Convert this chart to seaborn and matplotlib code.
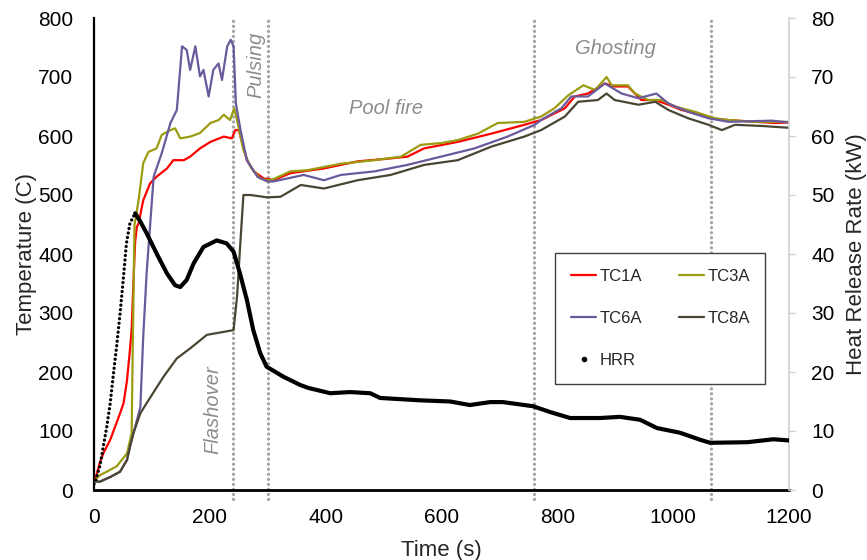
import numpy as np
import pandas as pd
import matplotlib
matplotlib.use("Agg")
import matplotlib.pyplot as plt
from matplotlib.lines import Line2D
import seaborn as sns

# ---------------- data ----------------
t_tc1a = [0, 2, 10, 16, 28, 45, 51, 57, 62, 65, 68, 71, 74, 77, 85, 97, 108, 126, 137, 155,
          166, 183, 201, 224, 238, 244, 250, 256, 264, 276, 293, 302, 310, 339, 397, 455, 512, 541, 570, 628,
          686, 743, 772, 813, 830, 853, 882, 899, 922, 945, 969, 992, 1015, 1038, 1067, 1096, 1142, 1176, 1200]
tc1a = [15, 17, 46, 62, 85, 130, 147, 186, 237, 271, 350, 420, 446, 452, 491, 520, 531, 545, 559, 559,
        565, 579, 590, 599, 596, 610, 610, 588, 559, 540, 528, 527, 525, 537, 545, 557, 562, 565, 579, 590,
        604, 619, 627, 647, 667, 672, 689, 684, 684, 661, 661, 653, 644, 638, 630, 627, 624, 622, 623]

t_tc3a = [0, 10, 22, 39, 57, 65, 67, 70, 77, 85, 94, 108, 117, 132, 140, 149, 166, 183, 201, 215,
          224, 235, 242, 247, 258, 270, 287, 299, 310, 339, 368, 426, 484, 530, 564, 599, 628, 663, 697, 743,
          772, 795, 819, 845, 865, 885, 894, 922, 934, 957, 980, 1003, 1038, 1072, 1096, 1142, 1200]
tc3a = [15, 25, 31, 40, 62, 96, 250, 450, 491, 554, 573, 579, 602, 610, 613, 596, 599, 605, 622, 627,
        636, 627, 647, 627, 576, 548, 528, 525, 527, 540, 542, 553, 559, 565, 585, 588, 593, 604, 622, 624,
        633, 647, 669, 686, 678, 700, 686, 686, 672, 661, 661, 650, 641, 630, 627, 624, 624]

t_tc6a = [0, 10, 28, 45, 57, 62, 68, 80, 85, 91, 97, 103, 117, 132, 143, 152, 160, 166, 175, 183,
          189, 198, 206, 215, 221, 230, 236, 241, 245, 253, 264, 282, 299, 310, 362, 397, 426, 484, 541, 599,
          657, 714, 761, 772, 807, 824, 853, 882, 911, 940, 971, 992, 1026, 1061, 1096, 1170, 1200]
tc6a = [15, 14, 22, 31, 51, 73, 96, 140, 260, 370, 450, 531, 571, 622, 644, 752, 746, 712, 752, 701,
        712, 667, 712, 723, 695, 752, 763, 752, 655, 610, 559, 531, 523, 523, 534, 525, 534, 540, 551, 565,
        579, 599, 619, 627, 647, 667, 667, 689, 672, 664, 672, 655, 641, 630, 624, 626, 623]

t_tc8a = [0, 10, 28, 45, 57, 62, 68, 80, 94, 120, 143, 166, 195, 224, 241, 247, 253, 258, 270, 299,
          322, 357, 397, 455, 512, 570, 628, 686, 743, 772, 813, 836, 870, 885, 899, 940, 969, 992, 1026, 1061,
          1084, 1107, 1153, 1199]
tc8a = [15, 14, 22, 31, 51, 73, 96, 130, 152, 192, 223, 240, 263, 268, 271, 328, 424, 500, 500, 496,
        497, 517, 511, 525, 534, 551, 559, 582, 599, 610, 633, 658, 661, 672, 661, 653, 658, 644, 630, 619,
        610, 619, 617, 614]

t_hrr = [0, 2, 10, 16, 22, 28, 33, 39, 45, 51, 56, 62, 71, 80, 91, 108, 126, 140, 149, 160,
         172, 189, 212, 229, 241, 252, 264, 275, 287, 298, 327, 356, 370, 408, 442, 477, 494, 563, 615, 649,
         684, 706, 758, 788, 822, 874, 908, 943, 972, 1012, 1047, 1064, 1128, 1173, 1200]
hrr = [1.0, 1.4, 4.0, 7.3, 10.7, 14.7, 19.2, 24.3, 29.9, 36.2, 41.8, 45.2, 46.9, 45.5, 43.5, 40.1, 36.7, 34.7, 34.4, 35.6,
       38.4, 41.2, 42.3, 41.8, 40.4, 36.7, 32.2, 27.1, 23.2, 20.9, 19.2, 17.8, 17.3, 16.4, 16.6, 16.4, 15.6, 15.2, 15.0, 14.4,
       14.9, 14.9, 14.2, 13.2, 12.2, 12.2, 12.4, 11.9, 10.5, 9.7, 8.5, 8.0, 8.1, 8.6, 8.4]
hrr_peak_time = 71   # end of the sparsely sampled (dotted-looking) growth phase

phase_times = [240, 300, 760, 1065]
phase_labels = ["Flashover", "Pulsing", "Pool fire", "Ghosting"]
phase_label_pos = [(206, 136), (279, 720), (504, 647), (900, 749)]
phase_label_rot = [90, 90, 0, 0]

series_names = ["TC1A", "TC3A", "TC6A", "TC8A"]
series_colors = ["#ff0000", "#9c9c12", "#6a5a9c", "#4a4633"]
x_ticks = [0, 200, 400, 600, 800, 1000, 1200]
y_ticks = [0, 100, 200, 300, 400, 500, 600, 700, 800]
y2_ticks = [0, 10, 20, 30, 40, 50, 60, 70, 80]

# ---------------- figure ----------------
sns.set_theme(style="white")
plt.rcParams["font.family"] = ["Liberation Sans", "DejaVu Sans"]

fig = plt.figure(figsize=(8.67, 5.60), dpi=100)
ax = fig.add_axes([94 / 867, 1 - 490 / 560, 695 / 867, 472 / 560])

for x in phase_times:
    ax.axvline(x, ymin=-0.02, ymax=0.995, color="#a6a6a6", lw=2.4,
               linestyle=(0, (0.01, 1.5)), dash_capstyle="round", zorder=1, clip_on=False)

series = [(t_tc1a, tc1a), (t_tc3a, tc3a), (t_tc6a, tc6a), (t_tc8a, tc8a)]
handles = {}
for name, color, (tt, vv) in zip(series_names, series_colors, series):
    df = pd.DataFrame({"t": tt, "v": vv})
    sns.lineplot(data=df, x="t", y="v", ax=ax, color=color, lw=1.6, zorder=3, label=name)
    handles[name] = ax.lines[-1]
if ax.get_legend() is not None:
    ax.get_legend().remove()

for txt, (px, py), rot in zip(phase_labels, phase_label_pos, phase_label_rot):
    ax.text(px, py, txt, rotation=rot, ha="center", va="center", fontsize=14.5,
            style="italic", color="#8c8c8c", zorder=2)

ax.set_xlim(0, 1200)
ax.set_ylim(0, 800)
ax.set_xticks(x_ticks)
ax.set_yticks(y_ticks)
ax.tick_params(axis="both", length=0, labelsize=15, colors="black")
ax.tick_params(axis="y", pad=15)
ax.tick_params(axis="x", pad=13)
ax.set_xlabel("Time (s)", fontsize=16, labelpad=9)
ax.set_ylabel("Temperature (C)", fontsize=16, labelpad=1)
for side in ["top", "right"]:
    ax.spines[side].set_visible(False)
ax.spines["left"].set_color("black")
ax.spines["left"].set_linewidth(1.6)
ax.spines["bottom"].set_color("black")
ax.spines["bottom"].set_linewidth(2.0)

# ---------------- HRR on secondary axis ----------------
ax2 = ax.twinx()
hdf = pd.DataFrame({"t": t_hrr, "q": hrr})
rise = hdf[hdf["t"] <= hrr_peak_time]
rest = hdf[hdf["t"] >= hrr_peak_time]
sns.lineplot(data=rise, x="t", y="q", ax=ax2, color="black", lw=2.4,
             linestyle=(0, (0.01, 1.35)), dash_capstyle="round", zorder=4)
sns.lineplot(data=rest, x="t", y="q", ax=ax2, color="black", lw=3.0,
             solid_capstyle="round", solid_joinstyle="round", zorder=4)
ax2.set_ylim(0, 80)
ax2.set_xlim(0, 1200)
ax2.set_yticks(y2_ticks)
ax2.tick_params(axis="y", direction="out", length=4, width=1, color="#d0d0d0",
                labelsize=15, labelcolor="black", pad=12)
ax2.set_ylabel("Heat Release Rate (kW)", fontsize=16, labelpad=8)
ax2.set_xlabel("")
for side in ["top", "left", "bottom"]:
    ax2.spines[side].set_visible(False)
ax2.spines["right"].set_color("#d0d0d0")
ax2.spines["right"].set_linewidth(1.2)

hrr_handle = Line2D([], [], color="black", marker="o", markersize=3, linestyle="none")
leg_handles = [handles["TC1A"], handles["TC6A"], hrr_handle, handles["TC3A"], handles["TC8A"]]
leg_labels = ["TC1A", "TC6A", "HRR", "TC3A", "TC8A"]
leg = ax2.legend(leg_handles, leg_labels, ncol=2, loc="upper left",
                 bbox_to_anchor=(0.652, 0.52), fontsize=12, frameon=True, fancybox=False,
                 edgecolor="#404040", framealpha=1, handlelength=1.5, handletextpad=0.2,
                 columnspacing=2.2, labelspacing=1.62, borderpad=0.95)
leg.get_frame().set_linewidth(1.0)
leg.set_zorder(10)

fig.savefig("out.png", dpi=100)
